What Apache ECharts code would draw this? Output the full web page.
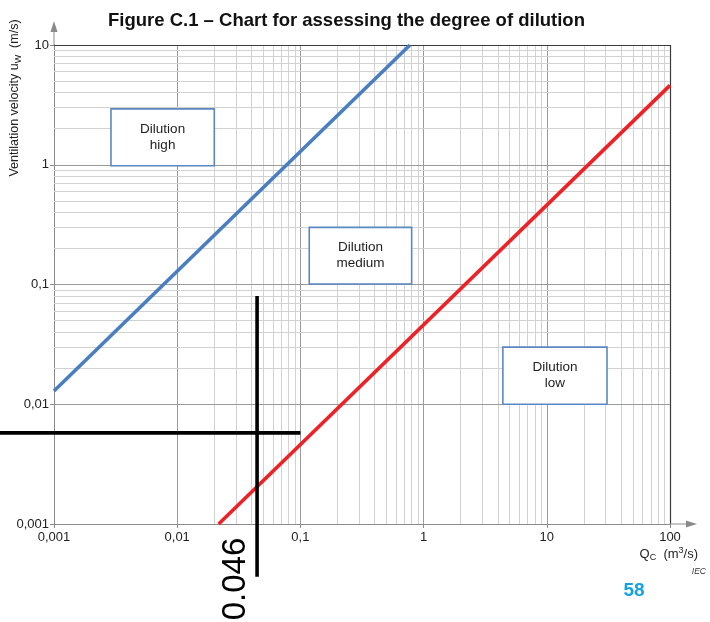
<!DOCTYPE html>
<html>
<head>
<meta charset="utf-8">
<script src="https://cdn.jsdelivr.net/npm/echarts@6/dist/echarts.min.js"></script>
<style>
html,body{margin:0;padding:0;background:#fff;}
#c{width:710px;height:622px;}
</style>
</head>
<body>
<div id="c"></div>
<script>
// ---- data ----
const xTickLabels = ['0,001', '0,01', '0,1', '1', '10', '100'];
const yTickLabels = ['0,001', '0,01', '0,1', '1', '10'];
const blueLine = [[0.001, 0.0129], [0.775, 10]];
const redLine = [[0.0217, 0.001], [100, 4.6]];
const hLine = [[0.000364, 0.00577], [0.1, 0.00577]];
const vLine = [[0.0445, 0.08], [0.0445, 0.000363]];
const boxLabels = ['Dilution\nhigh', 'Dilution\nmedium', 'Dilution\nlow'];
const boxQ = [[0.0029, 0.02], [0.118, 0.8], [4.4, 30.8]];
const boxU = [[0.98, 2.93], [0.101, 0.3], [0.01, 0.03]];
const markedValue = '0.046';

const FONT = 'Liberation Sans, Arial, sans-serif';

function gridLines(axisKey, decadeFrom, decadeTo) {
  const out = [];
  for (let d = decadeFrom; d < decadeTo; d++) {
    const base = Math.pow(10, d);
    for (let k = 2; k <= 9; k++) {
      out.push({ [axisKey]: +(k * base).toPrecision(6), lineStyle: { color: '#d2d2d2', width: 1, type: 'solid' } });
    }
    if (d > decadeFrom) {
      out.push({ [axisKey]: +base.toPrecision(6), lineStyle: { color: '#9a9a9a', width: 1, type: 'solid' } });
    }
  }
  out.push({ [axisKey]: +Math.pow(10, decadeTo).toPrecision(6), lineStyle: { color: '#3a3a3a', width: 1.2, type: 'solid' } });
  return out;
}

// straight black guide segment drawn through the axes' own scales
function segmentSeries(points) {
  return {
    type: 'custom', z: 6, clip: false, silent: true,
    data: [[points[0][0], points[0][1], points[1][0], points[1][1]]],
    encode: { x: [0, 2], y: [1, 3] },
    renderItem: (params, api) => {
      const a = api.coord([api.value(0), api.value(1)]);
      const b = api.coord([api.value(2), api.value(3)]);
      return {
        type: 'line',
        shape: { x1: a[0], y1: a[1], x2: b[0], y2: b[1] },
        style: { stroke: '#000', lineWidth: 3.6 }
      };
    }
  };
}

const chart = echarts.init(document.getElementById('c'));
const option = {
  animation: false,
  title: {
    text: 'Figure C.1 – Chart for assessing the degree of dilution',
    left: 103, top: 6,
    textStyle: { fontFamily: FONT, fontWeight: 'bold', fontSize: 18.5, color: '#111' }
  },
  grid: { left: 54, right: 40, top: 45, bottom: 98 },
  xAxis: {
    type: 'log', logBase: 10, min: 0.001, max: 100,
    splitLine: { show: false },
    axisLine: { lineStyle: { color: '#8a8a8a' } },
    axisTick: { length: 4, lineStyle: { color: '#8a8a8a' } },
    axisLabel: {
      color: '#222', fontSize: 13, fontFamily: FONT, margin: 7,
      formatter: v => xTickLabels[Math.round(Math.log10(v)) + 3]
    }
  },
  yAxis: {
    type: 'log', logBase: 10, min: 0.001, max: 10,
    splitLine: { show: false },
    axisLine: { lineStyle: { color: '#8a8a8a' } },
    axisTick: { length: 4, lineStyle: { color: '#8a8a8a' } },
    axisLabel: {
      color: '#222', fontSize: 13, fontFamily: FONT, margin: 5,
      formatter: v => yTickLabels[Math.round(Math.log10(v)) + 3]
    }
  },
  series: [
    {
      type: 'line', data: [], z: 1, silent: true,
      markLine: {
        z: 1, silent: true, symbol: ['none', 'none'], label: { show: false },
        animation: false,
        data: gridLines('xAxis', -3, 2).concat(gridLines('yAxis', -3, 1))
      }
    },
    {
      type: 'line', data: [], z: 3, silent: true,
      markArea: {
        z: 3, silent: true,
        itemStyle: { color: '#ffffff', opacity: 1, borderColor: '#5b87c2', borderWidth: 1.6 },
        label: {
          show: true, position: 'inside', color: '#222', fontFamily: FONT,
          fontSize: 13.5, lineHeight: 16
        },
        data: boxLabels.map((name, i) => [
          { name: name, coord: [boxQ[i][0], boxU[i][1]] },
          { coord: [boxQ[i][1], boxU[i][0]] }
        ])
      }
    },
    {
      type: 'line', data: blueLine, z: 5, symbol: 'none',
      lineStyle: { color: '#4a7ec0', width: 3.6 }
    },
    {
      type: 'line', data: redLine, z: 5, symbol: 'none',
      lineStyle: { color: '#ec2227', width: 3.6 }
    },
    segmentSeries(hLine),
    segmentSeries(vLine)
  ]
};
chart.setOption(option);

// decorations positioned from the axes
const xEnd = chart.convertToPixel({ xAxisIndex: 0 }, 100);
const yEnd = chart.convertToPixel({ yAxisIndex: 0 }, 10);
const x0 = chart.convertToPixel({ xAxisIndex: 0 }, 0.001);
const y0 = chart.convertToPixel({ yAxisIndex: 0 }, 0.001);
const vx = chart.convertToPixel({ xAxisIndex: 0 }, vLine[1][0]);

chart.setOption({
  graphic: [
    { type: 'line', shape: { x1: xEnd, y1: y0, x2: xEnd + 24, y2: y0 }, style: { stroke: '#8a8a8a', lineWidth: 1 }, z: 10 },
    { type: 'polygon', shape: { points: [[xEnd + 27, y0], [xEnd + 16, y0 - 3.5], [xEnd + 16, y0 + 3.5]] }, style: { fill: '#8a8a8a' }, z: 10 },
    { type: 'line', shape: { x1: x0, y1: yEnd, x2: x0, y2: yEnd - 20 }, style: { stroke: '#8a8a8a', lineWidth: 1 }, z: 10 },
    { type: 'polygon', shape: { points: [[x0, yEnd - 24], [x0 - 3.5, yEnd - 13], [x0 + 3.5, yEnd - 13]] }, style: { fill: '#8a8a8a' }, z: 10 },
    {
      type: 'text', x: 15, y: 98, rotation: Math.PI / 2, z: 10,
      style: {
        text: 'Ventilation velocity u{s|W}  (m/s)', fill: '#222', font: '12.5px ' + FONT,
        align: 'center', verticalAlign: 'middle',
        rich: { s: { fontSize: 9, fontFamily: FONT, fill: '#222', padding: [8, 0, 0, 0] } }
      }
    },
    {
      type: 'text', x: xEnd + 28, y: y0 + 30, z: 10,
      style: {
        text: 'Q{s|C}  (m{p|3}/s)', fill: '#222', font: '13px ' + FONT,
        align: 'right', verticalAlign: 'middle',
        rich: {
          s: { fontSize: 9, fontFamily: FONT, fill: '#222', padding: [8, 0, 0, 0] },
          p: { fontSize: 9, fontFamily: FONT, fill: '#222', padding: [0, 0, 7, 0] }
        }
      }
    },
    {
      type: 'text', x: 706, y: 572, z: 10,
      style: { text: 'IEC', fill: '#333', font: 'italic 8.5px ' + FONT, align: 'right', verticalAlign: 'middle' }
    },
    {
      type: 'text', x: 634, y: 591, z: 10,
      style: { text: '58', fill: '#12a3e0', font: 'bold 19px ' + FONT, align: 'center', verticalAlign: 'middle' }
    },
    {
      type: 'text', x: vx - 21, y: 579, rotation: Math.PI / 2, z: 10,
      style: { text: markedValue, fill: '#000', font: '33px ' + FONT, align: 'center', verticalAlign: 'middle' }
    }
  ]
});
</script>
</body>
</html>
